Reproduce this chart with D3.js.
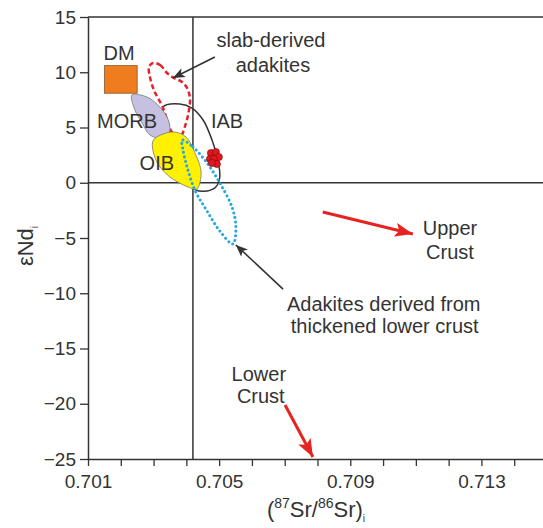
<!DOCTYPE html>
<html>
<head>
<meta charset="utf-8">
<script src="https://cdn.jsdelivr.net/npm/d3@7"></script>
<style>
  body { margin: 0; background: #fff; }
  svg { display: block; font-family: "Liberation Sans", Arial, sans-serif; }
</style>
</head>
<body>
<svg id="chart"></svg>
<script>
// axis ticks
const xTickValues = d3.range(701, 716).map(d => d / 1000);
const xTickLabels = ['0.701', '0.705', '0.709', '0.713'];
const yTickValues = [-25, -20, -15, -10, -5, 0, 5, 10, 15];

// bulk earth reference lines
const bulkSr = 0.7042;
const bulkNd = 0;

// fields, in (87Sr/86Sr, eNd)
const dmX = [0.7015, 0.7025];
const dmY = [8.1, 10.6];

const morb = [
  [0.70234, 7.94], [0.70280, 7.76], [0.70313, 7.04], [0.70341, 5.95], [0.70350, 4.95],
  [0.70344, 4.32], [0.70320, 4.05], [0.70289, 4.32], [0.70265, 5.41], [0.70243, 6.58]
];
const oib = [
  [0.70298, 3.78], [0.70329, 4.41], [0.70365, 4.59], [0.70399, 4.14], [0.70429, 2.51],
  [0.70445, 0.97], [0.70432, -0.57], [0.70405, -0.38], [0.70350, 0.52], [0.70310, 1.88]
];
const iab = [
  [0.70329, 6.85], [0.70380, 7.13], [0.70417, 6.76], [0.70451, 5.68], [0.70478, 3.89],
  [0.70496, 2.06], [0.70502, 0.52], [0.70490, -0.38], [0.70463, -0.74], [0.70429, -0.66],
  [0.70396, 0.25], [0.70356, 3.87]
];
const slabAdakites = [
  [0.70298, 10.84], [0.70320, 10.66], [0.70341, 9.93], [0.70362, 9.48], [0.70387, 9.12],
  [0.70402, 8.58], [0.70411, 7.67], [0.70408, 6.58], [0.70399, 5.41], [0.70380, 4.14],
  [0.70356, 4.59], [0.70329, 6.76], [0.70301, 8.39], [0.70289, 9.57], [0.70286, 10.48]
];
const lowerCrustAdakites = [
  [0.70387, 3.87], [0.70420, 3.24], [0.70463, 1.79], [0.70502, -0.02], [0.70539, -2.19],
  [0.70551, -4.00], [0.70542, -5.54], [0.70502, -4.37], [0.70463, -2.56], [0.70426, -0.66],
  [0.70402, 1.43], [0.70390, 2.96]
];

// samples
const sampleSr = [0.70475, 0.70490, 0.70499, 0.70472, 0.70484, 0.70493, 0.70478];
const sampleNd = [2.69, 2.78, 2.33, 2.15, 2.15, 1.70, 1.79];

// annotations
const labels = [
  {text: 'DM', x: 0.70195, y: 11.1},
  {text: 'MORB', x: 0.70219, y: 4.95},
  {text: 'IAB', x: 0.70524, y: 4.95},
  {text: 'OIB', x: 0.70310, y: 1.15},
  {text: 'slab-derived', x: 0.70658, y: 12.29},
  {text: 'adakites', x: 0.70664, y: 10.02},
  {text: 'Upper', x: 0.71204, y: -4.73},
  {text: 'Crust', x: 0.71204, y: -6.9},
  {text: 'Adakites derived from', x: 0.71002, y: -11.6},
  {text: 'thickened lower crust', x: 0.71005, y: -13.6},
  {text: 'Lower', x: 0.70621, y: -17.94},
  {text: 'Crust', x: 0.70627, y: -19.93}
];
const blackArrows = [
  [[0.70487, 11.38], [0.70359, 9.48]],
  [[0.70695, -9.62], [0.70551, -5.63]]
];
const redArrows = [
  [[0.70816, -2.65], [0.71091, -4.64]],
  [[0.70701, -20.11], [0.70786, -24.82]]
];

const width = 543, height = 528;
const ink = '#333';

const svg = d3.select('#chart')
  .attr('width', width)
  .attr('height', height)
  .style('overflow', 'hidden');

const x = d3.scaleLinear().domain([0.701, 0.715]).range([88, 547]);
const y = d3.scaleLinear().domain([-25, 15]).range([459, 17]);

const defs = svg.append('defs');
defs.append('marker')
  .attr('id', 'headBlack')
  .attr('viewBox', '0 0 12 10')
  .attr('refX', 12).attr('refY', 5)
  .attr('markerWidth', 12).attr('markerHeight', 10)
  .attr('markerUnits', 'userSpaceOnUse')
  .attr('orient', 'auto')
  .append('path').attr('d', 'M0,0 L12,5 L0,10 L3,5 Z').attr('fill', ink);
defs.append('marker')
  .attr('id', 'headRed')
  .attr('viewBox', '0 0 18 14')
  .attr('refX', 18).attr('refY', 7)
  .attr('markerWidth', 18).attr('markerHeight', 14)
  .attr('markerUnits', 'userSpaceOnUse')
  .attr('orient', 'auto')
  .append('path').attr('d', 'M0,0 L18,7 L0,14 L4,7 Z').attr('fill', '#e52421');

// reference lines
svg.append('line')
  .attr('x1', x(bulkSr)).attr('x2', x(bulkSr))
  .attr('y1', y(15)).attr('y2', y(-25))
  .attr('stroke', ink).attr('stroke-width', 1.5);
svg.append('line')
  .attr('x1', x(0.701)).attr('x2', x(0.715))
  .attr('y1', y(bulkNd)).attr('y2', y(bulkNd))
  .attr('stroke', ink).attr('stroke-width', 1.5);
svg.append('line')
  .attr('x1', x(0.701)).attr('x2', x(0.715))
  .attr('y1', y(15)).attr('y2', y(15))
  .attr('stroke', ink).attr('stroke-width', 1.5);

const closed = d3.line()
  .x(d => x(d[0]))
  .y(d => y(d[1]))
  .curve(d3.curveCatmullRomClosed.alpha(0.5));

svg.append('path').attr('d', closed(iab))
  .attr('fill', 'none').attr('stroke', ink).attr('stroke-width', 1.5);
svg.append('path').attr('d', closed(slabAdakites))
  .attr('fill', 'none').attr('stroke', '#e8212b').attr('stroke-width', 2.5)
  .attr('stroke-dasharray', '5,3');
svg.append('path').attr('d', closed(morb))
  .attr('fill', '#c6c1e0').attr('stroke', '#777').attr('stroke-width', 0.8);
svg.append('path').attr('d', closed(oib))
  .attr('fill', '#fff100').attr('stroke', '#777').attr('stroke-width', 0.8);
svg.append('path').attr('d', closed(lowerCrustAdakites))
  .attr('fill', 'none').attr('stroke', '#27a6df').attr('stroke-width', 3)
  .attr('stroke-linecap', 'round').attr('stroke-dasharray', '0.1,4.5');

svg.append('rect')
  .attr('x', x(dmX[0])).attr('y', y(dmY[1]))
  .attr('width', x(dmX[1]) - x(dmX[0]))
  .attr('height', y(dmY[0]) - y(dmY[1]))
  .attr('fill', '#ef7d1f').attr('stroke', '#8a5a30').attr('stroke-width', 0.8);

svg.selectAll('.sample')
  .data(sampleSr)
  .join('circle')
  .attr('class', 'sample')
  .attr('cx', d => x(d))
  .attr('cy', (d, i) => y(sampleNd[i]))
  .attr('r', 3.6)
  .attr('fill', '#e3161f')
  .attr('stroke', '#7a0a0a')
  .attr('stroke-width', 0.6);

// arrows
const seg = d3.line().x(d => x(d[0])).y(d => y(d[1]));
svg.selectAll('.arrowBlack')
  .data(blackArrows)
  .join('path')
  .attr('class', 'arrowBlack')
  .attr('d', seg)
  .attr('stroke', ink).attr('stroke-width', 1.6)
  .attr('marker-end', 'url(#headBlack)');
svg.selectAll('.arrowRed')
  .data(redArrows)
  .join('path')
  .attr('class', 'arrowRed')
  .attr('d', seg)
  .attr('stroke', '#e52421').attr('stroke-width', 3)
  .attr('marker-end', 'url(#headRed)');

svg.selectAll('.label')
  .data(labels)
  .join('text')
  .attr('class', 'label')
  .attr('x', d => x(d.x))
  .attr('y', d => y(d.y))
  .attr('text-anchor', 'middle')
  .attr('font-size', 20)
  .attr('fill', ink)
  .text(d => d.text);

// axes
const xAxis = svg.append('g')
  .attr('transform', `translate(0,${y(-25)})`)
  .call(d3.axisBottom(x)
    .tickValues(xTickValues)
    .tickFormat(d => {
      const s = d3.format('.3f')(d);
      return xTickLabels.includes(s) ? s : '';
    })
    .tickSize(7)
    .tickPadding(9)
    .tickSizeOuter(0));

const yAxis = svg.append('g')
  .attr('transform', `translate(${x(0.701)},0)`)
  .call(d3.axisLeft(y)
    .tickValues(yTickValues)
    .tickSize(8)
    .tickPadding(4)
    .tickSizeOuter(0));

[xAxis, yAxis].forEach(g => {
  g.select('.domain').attr('stroke', ink).attr('stroke-width', 1.5);
  g.selectAll('.tick line').attr('stroke', ink).attr('stroke-width', 1.3);
  g.selectAll('.tick text')
    .attr('fill', ink)
    .attr('font-size', 19)
    .attr('font-family', '"Liberation Sans", Arial, sans-serif');
});

// axis titles
const xTitle = svg.append('text')
  .attr('x', 316).attr('y', 517)
  .attr('text-anchor', 'middle')
  .attr('font-size', 22)
  .attr('fill', ink);
xTitle.append('tspan').text('(');
xTitle.append('tspan').attr('font-size', 14).attr('dy', -9).text('87');
xTitle.append('tspan').attr('dy', 9).text('Sr/');
xTitle.append('tspan').attr('font-size', 14).attr('dy', -9).text('86');
xTitle.append('tspan').attr('dy', 9).text('Sr)');
xTitle.append('tspan').attr('font-size', 10).attr('dy', 5).text('i');

const yTitle = svg.append('text')
  .attr('transform', 'translate(33,246) rotate(-90)')
  .attr('text-anchor', 'middle')
  .attr('font-size', 22)
  .attr('fill', ink);
yTitle.append('tspan').text('εNd');
yTitle.append('tspan').attr('font-size', 10).attr('dy', 5).text('i');
</script>
</body>
</html>
